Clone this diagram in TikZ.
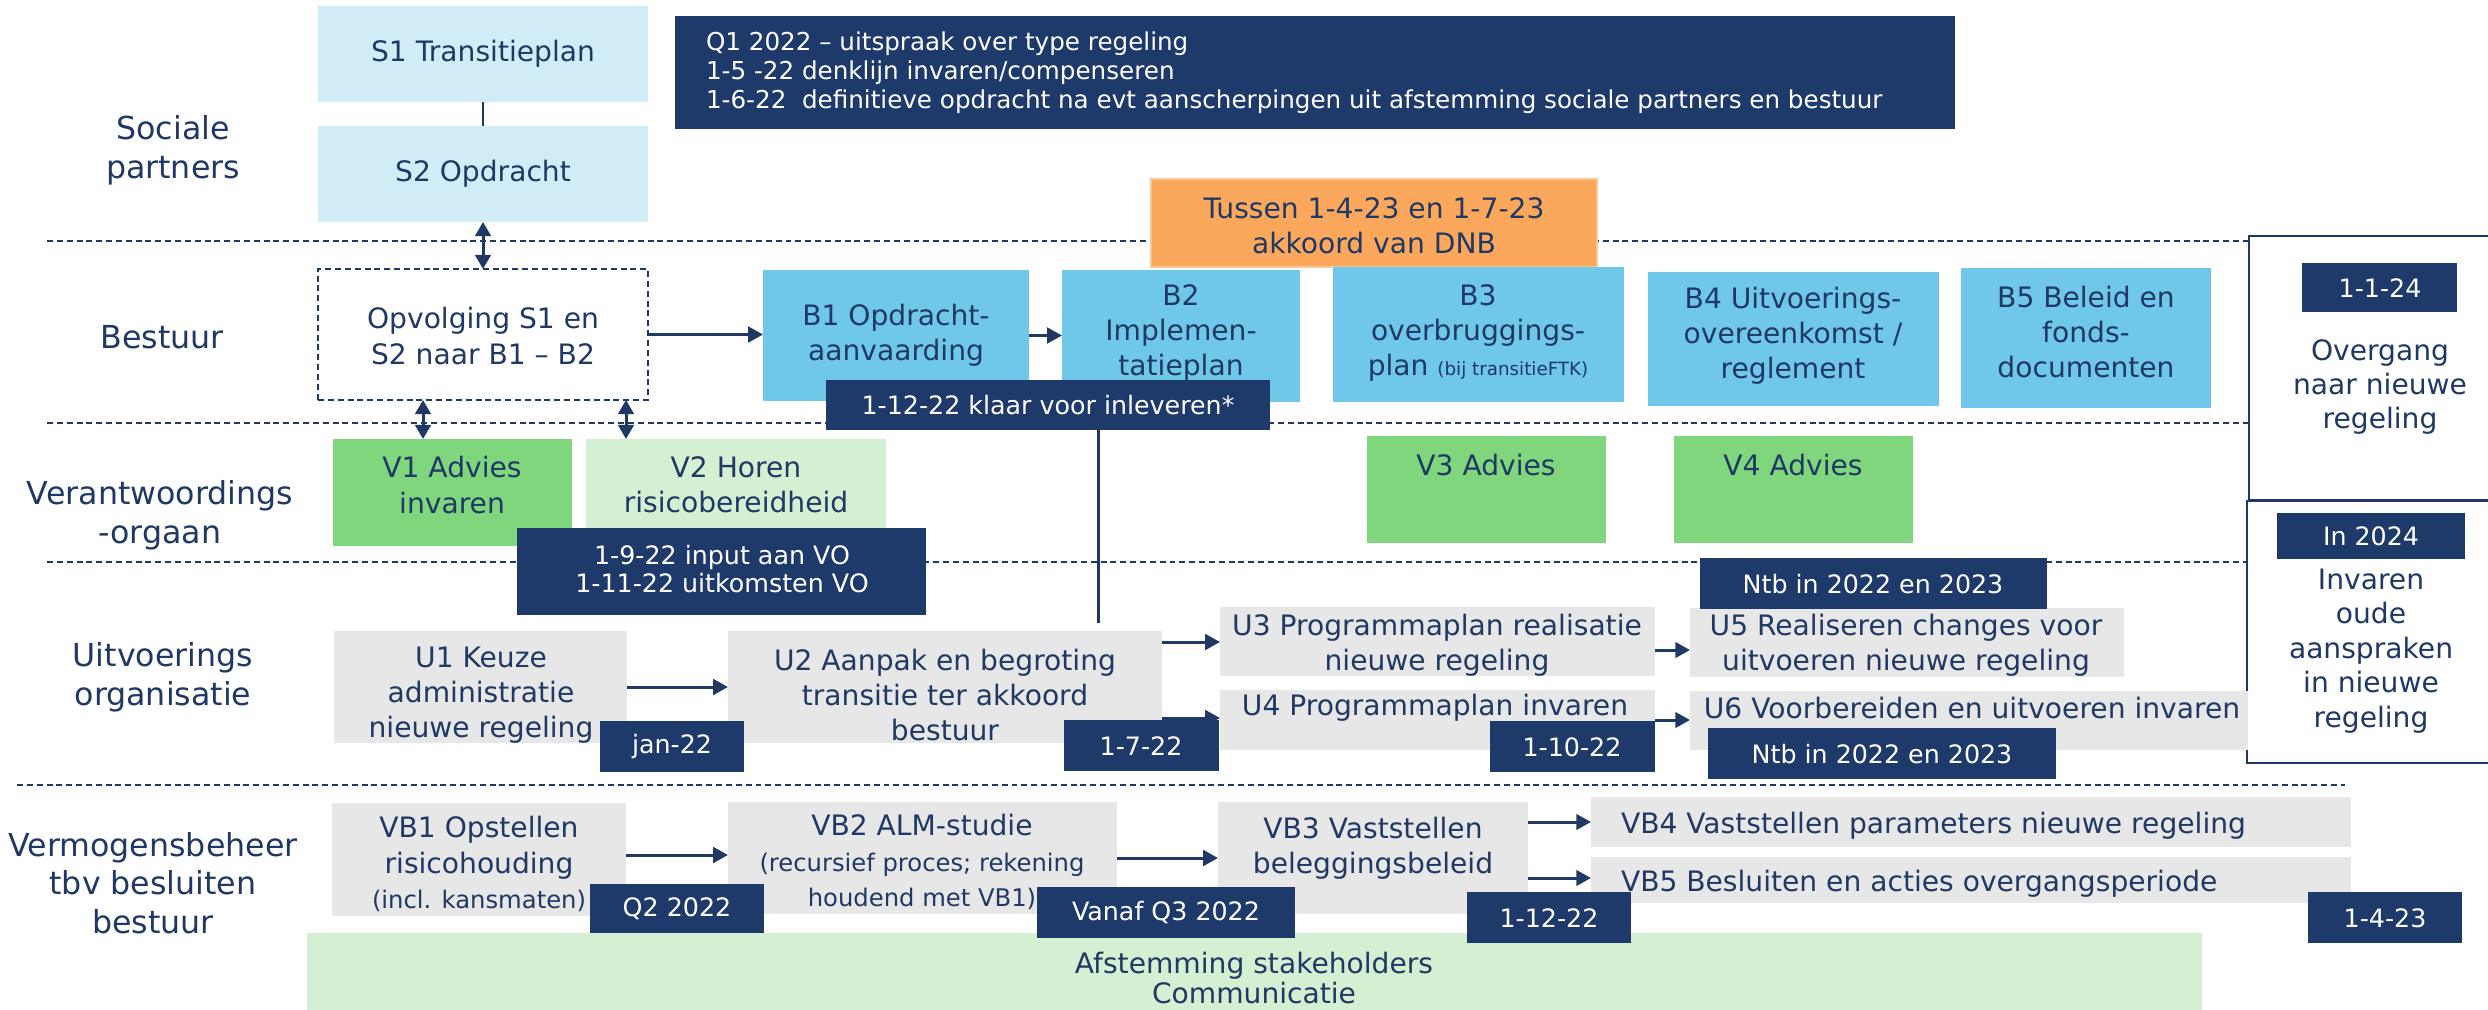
\documentclass[tikz,border=0pt]{standalone}
\usepackage{fontspec}
\setmainfont{DejaVu Sans}
\usetikzlibrary{fit,arrows.meta}

\definecolor{navy}{HTML}{1F3864}
\definecolor{datefill}{HTML}{1E3A6B}
\definecolor{sblue}{HTML}{D2ECF7}
\definecolor{bblue}{HTML}{6FC8EA}
\definecolor{orangefill}{HTML}{FBA85D}
\definecolor{orangeedge}{HTML}{F9C797}
\definecolor{vgreen}{HTML}{80D67C}
\definecolor{vlight}{HTML}{D4F0D2}
\definecolor{ugray}{HTML}{E7E7E7}

\tikzset{
  area/.style={rectangle, inner sep=0pt, outer sep=0pt, draw=none},
  sbox/.style={area, fill=sblue},
  bbox/.style={area, fill=bblue},
  vbox/.style={area, fill=vgreen},
  vlbox/.style={area, fill=vlight},
  gbox/.style={area, fill=ugray},
  datebox/.style={area, fill=datefill},
  orangebox/.style={area, fill=orangefill, draw=orangeedge, line width=0.7pt},
  framebox/.style={area, draw=navy, line width=0.6pt, fill=white},
  dashbox/.style={area, draw=navy, line width=0.6pt, dash pattern=on 1.7pt off 1.1pt, fill=white},
  txt/.style={inner sep=0pt, outer sep=0pt, align=center, text=navy, font=\fontsize{8}{10}\selectfont},
  lane/.style={txt, font=\fontsize{9}{11}\selectfont},
  datetxt/.style={txt, text=white, font=\fontsize{7.2}{8.2}\selectfont},
  lanesep/.style={navy, line width=0.55pt, dash pattern=on 1.7pt off 1.1pt},
  conn/.style={navy, line width=0.85pt},
  flow/.style={conn, -{Triangle[length=4.2pt,width=4.4pt]}},
  twoway/.style={conn, {Triangle[length=4pt,width=4.4pt]}-{Triangle[length=4pt,width=4.4pt]}},
}

\newcommand{\smallpar}{\fontsize{6.9}{8}\selectfont}
\newcommand{\tinypar}{\fontsize{5.2}{6}\selectfont}

\begin{document}
\begin{tikzpicture}[x=0.01cm, y=-0.01cm]
\useasboundingbox (0,0) rectangle (2488,1009);

% lane separators
\draw[lanesep] (47,241) -- (2249,241);
\draw[lanesep] (47,423) -- (2249,423);
\draw[lanesep] (47,562) -- (2249,562);
\draw[lanesep] (17,785) -- (2345,785);

% lane titles
\node[lane] (Lsoc) at (173,150) {Sociale\\partners};
\node[lane] (Lbes) at (162,337) {Bestuur};
\node[lane] (Lver) at (160,515) {Verantwoordings\\-orgaan};
\node[lane] (Luit) at (163,677) {Uitvoerings\\organisatie};
\node[lane] (Lvb)  at (153,883) {Vermogensbeheer\\tbv besluiten\\bestuur};

% sociale partners
\node[sbox, fit={(318,6) (648,102)}] (S1) {};
\node[txt] (S1t) at (483,54) {S1 Transitieplan};
\node[sbox, fit={(318,126) (648,222)}] (S2) {};
\node[txt] (S2t) at (483,174) {S2 Opdracht};

\node[datebox, fit={(675,16) (1955,129)}] (Q1) {};
\node[datetxt, anchor=west, align=left, font=\fontsize{7}{8.2}\selectfont] (Q1t) at (706,73)
  {Q1 2022 – uitspraak over type regeling\\
   1-5 -22 denklijn invaren/compenseren\\
   1-6-22~ definitieve opdracht na evt aanscherpingen uit afstemming sociale partners en bestuur};

% bestuur
\node[orangebox, fit={(1151,179) (1597,267)}] (DNB) {};
\node[txt] (DNBt) at (1374,226) {Tussen 1-4-23 en 1-7-23\\akkoord van DNB};

\node[dashbox, fit={(318,269) (648,400)}] (OP) {};
\node[txt] (OPt) at (483,336) {Opvolging S1 en\\S2 naar B1 – B2};

\node[bbox, fit={(763,270) (1029,401)}] (B1) {};
\node[txt] (B1t) at (896,335) {B1 Opdracht-\\aanvaarding};
\node[bbox, fit={(1062,270) (1300,402)}] (B2) {};
\node[txt] (B2t) at (1181,333) {B2\\Implemen-\\tatieplan};
\node[bbox, fit={(1333,267) (1624,402)}] (B3) {};
\node[txt] (B3t) at (1478,333) {B3\\overbruggings-\\plan {\tinypar (bij transitieFTK)}};
\node[bbox, fit={(1648,272) (1939,406)}] (B4) {};
\node[txt] (B4t) at (1793,336) {B4 Uitvoerings-\\overeenkomst /\\reglement};
\node[bbox, fit={(1961,268) (2211,408)}] (B5) {};
\node[txt] (B5t) at (2086,332) {B5 Beleid en\\fonds-\\documenten};

% right-hand milestones
\node[framebox, fit={(2249,236) (2495,500)}] (R1) {};
\node[datebox, fit={(2302,263) (2457,312)}] (R1d) {};
\node[datetxt] (R1dt) at (2380,288) {1-1-24};
\node[txt, font=\fontsize{8}{9.8}\selectfont] (R1t) at (2380,387) {Overgang\\naar nieuwe\\regeling};
\node[framebox, fit={(2247,501) (2495,763)}] (R2) {};
\node[datebox, fit={(2277,513) (2465,559)}] (R2d) {};
\node[datetxt] (R2dt) at (2371,536) {In 2024};
\node[txt, font=\fontsize{8}{9.8}\selectfont] (R2t) at (2371,651) {Invaren\\oude\\aanspraken\\in nieuwe\\regeling};

% verantwoordingsorgaan
\node[vbox, fit={(333,439) (572,546)}] (V1) {};
\node[txt] (V1t) at (452,485) {V1 Advies\\invaren};
\node[vlbox, fit={(586,439) (886,546)}] (V2) {};
\node[txt] (V2t) at (736,485) {V2 Horen\\risicobereidheid};
\node[vbox, fit={(1367,436) (1606,543)}] (V3) {};
\node[txt] (V3t) at (1486,465) {V3 Advies};
\node[vbox, fit={(1674,436) (1913,543)}] (V4) {};
\node[txt] (V4t) at (1793,465) {V4 Advies};

% uitvoeringsorganisatie
\node[gbox, fit={(334,631) (627,743)}] (U1) {};
\node[txt] (U1t) at (481,695) {U1 Keuze\\administratie\\nieuwe regeling};
\node[gbox, fit={(728,631) (1162,743)}] (U2) {};
\node[txt] (U2t) at (945,695) {U2 Aanpak en begroting\\transitie ter akkoord\\bestuur};
\node[gbox, fit={(1220,607) (1655,676)}] (U3) {};
\node[txt] (U3t) at (1437,645) {U3 Programmaplan realisatie\\nieuwe regeling};
\node[gbox, fit={(1220,690) (1655,750)}] (U4) {};
\node[txt] (U4t) at (1435,708) {U4 Programmaplan invaren};
\node[gbox, fit={(1690,608) (2124,677)}] (U5) {};
\node[txt] (U5t) at (1906,645) {U5 Realiseren changes voor\\uitvoeren nieuwe regeling};
\node[gbox, fit={(1690,691) (2248,750)}] (U6) {};
\node[txt] (U6t) at (1972,708) {U6 Voorbereiden en uitvoeren invaren};

% vermogensbeheer
\node[gbox, fit={(332,803) (626,916)}] (VB1) {};
\node[txt] (VB1t) at (479,864) {VB1 Opstellen\\risicohouding\\{\smallpar (incl. kansmaten)}};
\node[gbox, fit={(728,802) (1117,914)}] (VB2) {};
\node[txt] (VB2t) at (922,862) {VB2 ALM-studie\\{\smallpar (recursief proces; rekening}\\{\smallpar houdend met VB1)}};
\node[gbox, fit={(1218,802) (1528,914)}] (VB3) {};
\node[txt] (VB3t) at (1373,848) {VB3 Vaststellen\\beleggingsbeleid};
\node[gbox, fit={(1591,797) (2351,847)}] (VB4) {};
\node[txt, anchor=west] (VB4t) at (1621,826) {VB4 Vaststellen parameters nieuwe regeling};
\node[gbox, fit={(1591,857) (2351,903)}] (VB5) {};
\node[txt, anchor=west] (VB5t) at (1621,884) {VB5 Besluiten en acties overgangsperiode};

\node[vlbox, fit={(307,933) (2202,1015)}] (AF) {};
\node[txt, font=\fontsize{8}{8.6}\selectfont] (AFt) at (1254,978) {Afstemming stakeholders\\Communicatie};

% helper coordinates for connector heights and columns
\coordinate (a423) at (423,0);
\coordinate (a626) at (626,0);
\coordinate (k1) at (1098,623);
\coordinate (h642) at (0,642);
\coordinate (h650) at (0,650);
\coordinate (h718) at (0,718);
\coordinate (h720) at (0,720);
\coordinate (h855) at (0,855);
\coordinate (h858) at (0,858);
\coordinate (h822) at (0,822);
\coordinate (h878) at (0,878);

% connectors
\draw[navy, line width=0.45pt] (S1.south) -- (S2.north);
\draw[twoway] (S2.south) -- (OP.north);
\draw[twoway] (OP.south -| a423) -- (V1.north -| a423);
\draw[twoway] (OP.south -| a626) -- (V2.north -| a626);
\draw[flow] (OP.east) -- (OP.east -| B1.west);
\draw[flow] (B1.east) -- (B1.east -| B2.west);

\draw[flow] (U1.east) -- (U1.east -| U2.west);
\draw[flow] (U2.east |- h642) -- (U3.west |- h642);
\draw[flow] (U2.east |- h718) -- (U4.west |- h718);
\draw[flow] (U3.east |- h650) -- (U5.west |- h650);
\draw[flow] (U4.east |- h720) -- (U6.west |- h720);

\draw[flow] (VB1.east |- h855) -- (VB2.west |- h855);
\draw[flow] (VB2.east |- h858) -- (VB3.west |- h858);
\draw[flow] (VB3.east |- h822) -- (VB4.west |- h822);
\draw[flow] (VB3.east |- h878) -- (VB5.west |- h878);

% date markers
\node[datebox, fit={(826,380) (1270,430)}] (klaar) {};
\node[datetxt] (klaart) at (1048,405) {1-12-22 klaar voor inleveren*};
\draw[conn] (klaar.south -| k1) -- (k1);

\node[datebox, fit={(517,528) (926,615)}] (VO) {};
\node[datetxt] (VOt) at (722,569) {1-9-22 input aan VO\\1-11-22 uitkomsten VO};

\node[datebox, fit={(600,721) (744,772)}] (D1) {};
\node[datetxt] (D1t) at (672,747) {jan-22};
\node[datebox, fit={(1064,720) (1219,771)}] (D2) {};
\node[datetxt] (D2t) at (1141,746) {1-7-22};
\node[datebox, fit={(1490,721) (1655,772)}] (D3) {};
\node[datetxt] (D3t) at (1572,747) {1-10-22};
\node[datebox, fit={(1700,558) (2047,609)}] (N1) {};
\node[datetxt] (N1t) at (1873,584) {Ntb in 2022 en 2023};
\node[datebox, fit={(1708,728) (2056,779)}] (N2) {};
\node[datetxt] (N2t) at (1882,754) {Ntb in 2022 en 2023};

\node[datebox, fit={(590,884) (764,933)}] (D4) {};
\node[datetxt] (D4t) at (677,909) {Q2 2022};
\node[datebox, fit={(1037,887) (1295,938)}] (D5) {};
\node[datetxt] (D5t) at (1166,913) {Vanaf Q3 2022};
\node[datebox, fit={(1467,892) (1631,943)}] (D6) {};
\node[datetxt] (D6t) at (1549,918) {1-12-22};
\node[datebox, fit={(2308,892) (2462,943)}] (D7) {};
\node[datetxt] (D7t) at (2385,918) {1-4-23};

\end{tikzpicture}
\end{document}
